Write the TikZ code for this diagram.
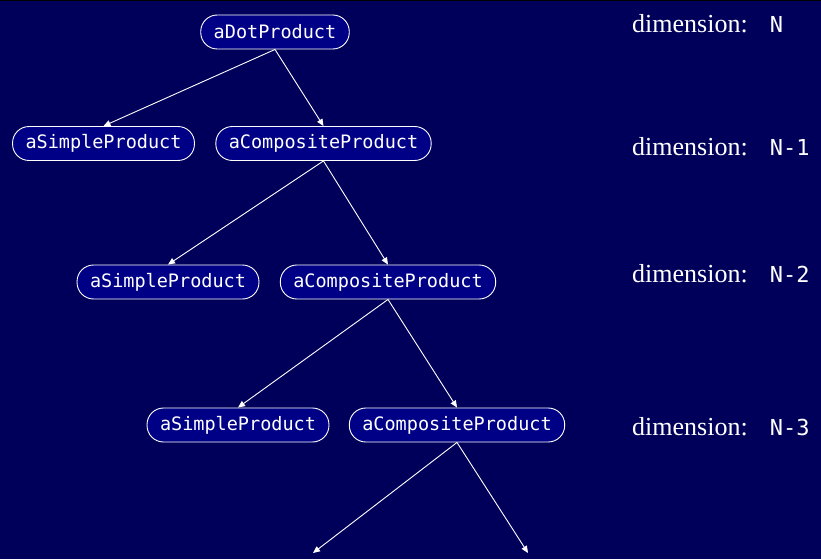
\documentclass[tikz,border=0pt]{standalone}
\usepackage{fontspec}
\setmainfont{Liberation Serif}
\newfontfamily\monof{DejaVu Sans Mono}
\usetikzlibrary{arrows.meta}
\definecolor{bgblue}{RGB}{0,0,90}
\definecolor{nodeblue}{RGB}{0,0,135}
\tikzset{
  obj/.style={draw=white, line width=0.9pt, fill=nodeblue, text=white,
    rounded corners=16.5pt, minimum height=34pt, inner xsep=13pt, inner ysep=0pt,
    font=\monof\fontsize{18.5}{20}\selectfont},
  link/.style={draw=white, line width=0.9pt, -{Triangle[width=6pt,length=7pt]}},
  dimlabel/.style={anchor=base west, text=white, inner sep=0pt,
    font=\fontsize{26}{28}\selectfont}
}
\newcommand{\dimtxt}[1]{dimension:\hspace{22pt}{\monof\fontsize{22}{24}\selectfont #1}}
\begin{document}
\begin{tikzpicture}[x=1pt,y=1pt]
\fill[bgblue] (0,0) rectangle (821,-559);
\fill[black] (0,0) rectangle (821,-1.2);
\useasboundingbox (0,0) rectangle (821,-559);

\node[obj] (dot) at (275,-32) {aDotProduct};
\node[obj] (s1) at (103.5,-143.5) {aSimpleProduct};
\node[obj] (c1) at (323.5,-143.5) {aCompositeProduct};
\node[obj] (s2) at (168,-282) {aSimpleProduct};
\node[obj] (c2) at (388,-282) {aCompositeProduct};
\node[obj] (s3) at (238,-425) {aSimpleProduct};
\node[obj] (c3) at (457,-425) {aCompositeProduct};

\coordinate (e1) at (313,-553);
\coordinate (e2) at (528,-553);

\draw[link] (dot.south) -- (s1.north);
\draw[link] (dot.south) -- (c1.north);
\draw[link] (c1.south) -- (s2.north);
\draw[link] (c1.south) -- (c2.north);
\draw[link] (c2.south) -- (s3.north);
\draw[link] (c2.south) -- (c3.north);
\draw[link] (c3.south) -- (e1);
\draw[link] (c3.south) -- (e2);

\node[dimlabel] (d0) at (632,-33) {\dimtxt{N}};
\node[dimlabel] (d1) at (632,-155) {\dimtxt{N-1}};
\node[dimlabel] (d2) at (632,-282) {\dimtxt{N-2}};
\node[dimlabel] (d3) at (632,-435) {\dimtxt{N-3}};
\end{tikzpicture}
\end{document}
